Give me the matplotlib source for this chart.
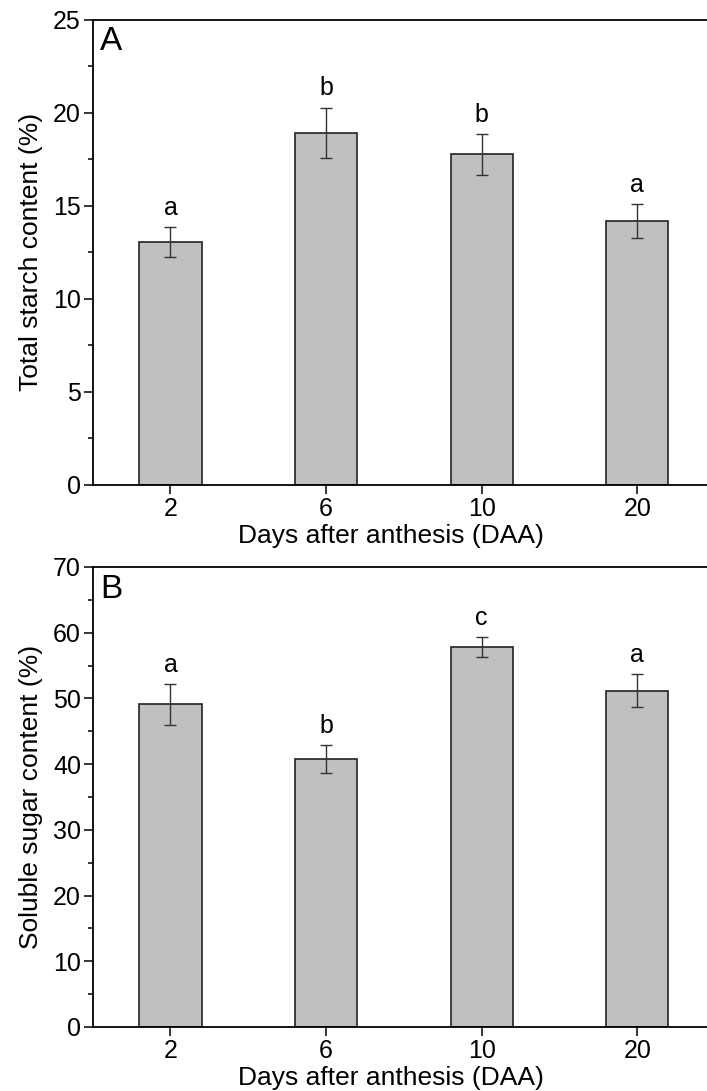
import numpy as np
import matplotlib
matplotlib.use("Agg")
import matplotlib.pyplot as plt

plt.rcParams['font.family'] = ['Liberation Sans', 'DejaVu Sans']

# data
days = ['2', '6', '10', '20']
starch = [13.05, 18.9, 17.75, 14.17]
starch_err = [0.78, 1.35, 1.1, 0.9]
starch_sig = ['a', 'b', 'b', 'a']
sugar = [49.1, 40.8, 57.8, 51.2]
sugar_err = [3.1, 2.1, 1.5, 2.55]
sugar_sig = ['a', 'b', 'c', 'a']

fig = plt.figure(figsize=(7.07, 10.91), dpi=100)
W, H = 707, 1091


def panel(box, vals, errs, sig, ymax, ystep, ylabel, tag, offset):
    x0, ytop, x1, ybot = box
    ax = fig.add_axes([x0 / W, 1 - ybot / H, (x1 - x0) / W, (ybot - ytop) / H])
    pos = np.arange(len(days))
    ax.bar(pos, vals, width=0.4, color='#c0c0c0', edgecolor='#222222', linewidth=1.2, zorder=2)
    ax.errorbar(pos, vals, yerr=errs, fmt='none', ecolor='#333333', elinewidth=1.0,
                capsize=4, capthick=1.0, zorder=3)
    for p, v, e, s in zip(pos, vals, errs, sig):
        ax.text(p, v + e + offset, s, ha='center', va='bottom', fontsize=18)
    ax.set_xlim(-0.5, 3.5)
    ax.set_ylim(0, ymax)
    ax.set_xticks(pos)
    ax.set_xticklabels(days)
    ax.set_yticks(np.arange(0, ymax + 0.1, ystep))
    ax.set_yticks(np.arange(0, ymax + 0.1, ystep / 2), minor=True)
    ax.tick_params(axis='both', which='major', direction='out', length=6.5, width=1.1,
                   labelsize=18, pad=2)
    ax.tick_params(axis='y', which='minor', direction='out', length=3.5, width=1.1)
    ax.tick_params(axis='x', which='minor', bottom=False)
    for sp in ax.spines.values():
        sp.set_linewidth(1.3)
    ax.set_xlabel('Days after anthesis (DAA)', fontsize=19, labelpad=2)
    ax.xaxis.label.set_x(0.48)
    ax.set_ylabel(ylabel, fontsize=19, labelpad=7)
    ax.text(0.012, 0.985, tag, transform=ax.transAxes, ha='left', va='top', fontsize=24)
    return ax


panel((92.7, 19.5, 715, 485), starch, starch_err, starch_sig, 25, 5,
      'Total starch content (%)', 'A', 0.4)
panel((92.7, 567, 715, 1027), sugar, sugar_err, sugar_sig, 70, 10,
      'Soluble sugar content (%)', 'B', 1.1)

fig.savefig('out.png', dpi=100)
